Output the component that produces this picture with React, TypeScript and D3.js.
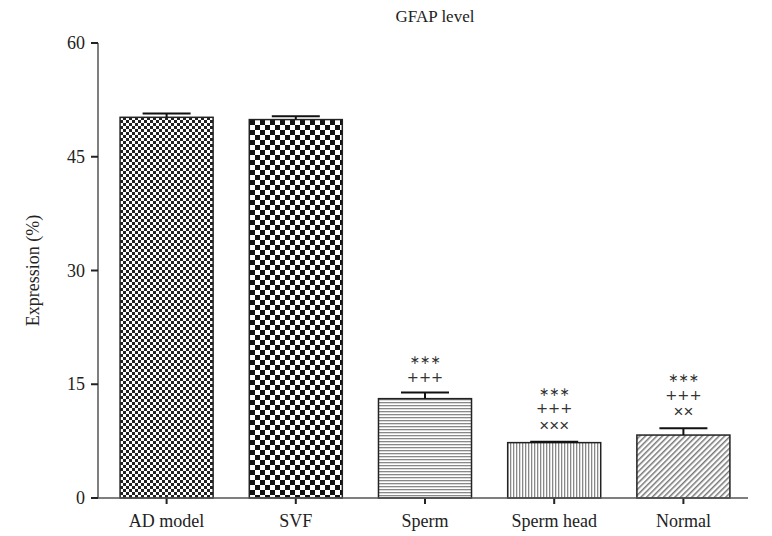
import React from "react";
import * as d3 from "d3";

const categories = ["AD model", "SVF", "Sperm", "Sperm head", "Normal"];
const means = [50.2, 49.9, 13.1, 7.3, 8.3];
const errors = [0.5, 0.45, 0.8, 0.12, 0.9];
const annotations = [[], [], ["***", "+++"], ["***", "+++", "×××"], ["***", "+++", "××"]];
const yTicks = [0, 15, 30, 45, 60];
const patterns = ["checkFine", "checkCoarse", "hlines", "vlines", "diag"];

const W = 772, H = 536;
const left = 98, right = 748, top = 43, bottom = 498;

export default function App() {
  const x = d3.scaleBand<string>().domain(categories).range([left + 4, right]).paddingInner(0.28).paddingOuter(0.14);
  const y = d3.scaleLinear().domain([0, 60]).range([bottom, top]);
  const font = "Liberation Serif";
  return (
    <svg width={W} height={H} style={{ position: "absolute", left: 0, top: 0 }}>
      <defs>
        <pattern id="checkFine" width="6" height="6" patternUnits="userSpaceOnUse">
          <rect width="6" height="6" fill="#fff" />
          <rect width="3" height="3" fill="#222" />
          <rect x="3" y="3" width="3" height="3" fill="#222" />
        </pattern>
        <pattern id="checkCoarse" width="10" height="10" patternUnits="userSpaceOnUse">
          <rect width="10" height="10" fill="#fff" />
          <rect width="5" height="5" fill="#111" />
          <rect x="5" y="5" width="5" height="5" fill="#111" />
        </pattern>
        <pattern id="hlines" width="3" height="3" patternUnits="userSpaceOnUse">
          <rect width="3" height="3" fill="#fff" />
          <rect width="3" height="1.3" fill="#888" />
        </pattern>
        <pattern id="vlines" width="3" height="3" patternUnits="userSpaceOnUse">
          <rect width="3" height="3" fill="#fff" />
          <rect width="1.3" height="3" fill="#888" />
        </pattern>
        <pattern id="diag" width="4" height="4" patternUnits="userSpaceOnUse" patternTransform="rotate(45)">
          <rect width="4" height="4" fill="#fff" />
          <rect width="1.5" height="4" fill="#777" />
        </pattern>
      </defs>
      <rect width={W} height={H} fill="#fff" />
      <text x={435} y={22} textAnchor="middle" fontFamily={font} fontSize={17} fill="#222">GFAP level</text>
      <text transform={`translate(39,${(top + bottom) / 2}) rotate(-90)`} textAnchor="middle" fontFamily={font} fontSize={18} fill="#222">Expression (%)</text>
      {categories.map((c, i) => {
        const bx = x(c)!;
        const bw = x.bandwidth();
        const cx = bx + bw / 2;
        const yt = y(means[i]);
        const ye = y(means[i] + errors[i]);
        const n = annotations[i].length;
        return (
          <g key={c}>
            <rect x={bx} y={yt} width={bw} height={bottom - yt} fill={`url(#${patterns[i]})`} stroke="#222" strokeWidth={1.5} />
            <line x1={cx} x2={cx} y1={yt} y2={ye} stroke="#111" strokeWidth={2} />
            <line x1={cx - 24} x2={cx + 24} y1={ye} y2={ye} stroke="#111" strokeWidth={2} />
            {annotations[i].map((a, j) => {
              const k = n - 1 - j;
              const isStar = a.startsWith("*");
              const isX = a.startsWith("×");
              const center = ye - 16 - k * 17.5;
              return (
                <text key={j} x={cx} y={center + 5} textAnchor="middle"
                  fontFamily={isX ? "Liberation Sans" : "DejaVu Sans"} fontSize={isStar ? 12.3 : isX ? 17 : 14.5} fill="#333">
                  {isStar ? a.replace(/\*/g, "\u2217") : a}
                </text>
              );
            })}
            <line x1={cx} x2={cx} y1={bottom} y2={bottom + 6} stroke="#222" strokeWidth={2} />
            <text x={cx} y={bottom + 29} textAnchor="middle" fontFamily={font} fontSize={18} fill="#222">{c}</text>
          </g>
        );
      })}
      <line x1={left} x2={left} y1={top} y2={bottom} stroke="#555" strokeWidth={1.5} />
      <line x1={left} x2={right} y1={bottom} y2={bottom} stroke="#555" strokeWidth={1.5} />
      {yTicks.map((t) => (
        <g key={t}>
          <line x1={left - 7} x2={left} y1={y(t)} y2={y(t)} stroke="#222" strokeWidth={2} />
          <text x={left - 13} y={y(t) + 6} textAnchor="end" fontFamily={font} fontSize={18} fill="#222">{t}</text>
        </g>
      ))}
    </svg>
  );
}
